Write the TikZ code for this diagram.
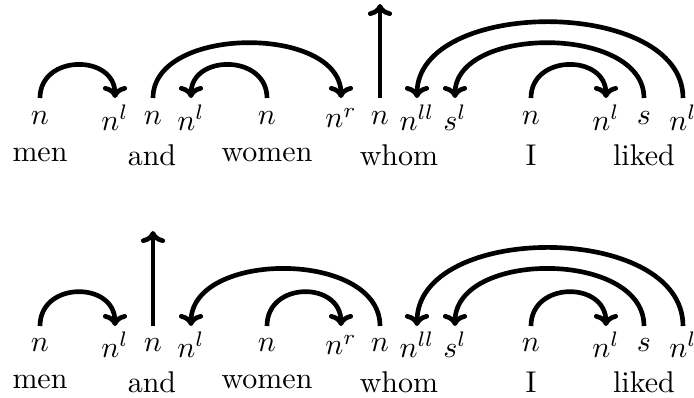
\documentclass[tikz,border=0pt]{standalone}
\usetikzlibrary{arrows.meta}
\begin{document}
\begin{tikzpicture}[x=0.33333pt,y=-0.33333pt,
  arr/.style={-{To[width=8pt,length=4pt]},line width=1.55pt},
  lab/.style={inner sep=0pt},
  word/.style={inner sep=0pt}]
\useasboundingbox (0,0) rectangle (694,397);
% ---------- top row ----------
\coordinate (tb) at (0,98);
\coordinate (ttop) at (380,4);
\node[lab] (t1) at (40,118) {$n$};
\node[lab] (t2) at (115,118) {$n^l$};
\node[lab] (t3) at (153,118) {$n$};
\node[lab] (t4) at (191,118) {$n^l$};
\node[lab] (t5) at (267,118) {$n$};
\node[lab] (t6) at (341,118) {$n^r$};
\node[lab] (t7) at (380,118) {$n$};
\node[lab] (t8) at (417,118) {$n^{ll}$};
\node[lab] (t9) at (455,118) {$s^l$};
\node[lab] (t10) at (531,118) {$n$};
\node[lab] (t11) at (606,118) {$n^l$};
\node[lab] (t12) at (644,118) {$s$};
\node[lab] (t13) at (683,118) {$n^l$};
\node[word] (tw1) at (40,155) {men};
\node[word] (tw2) at (152,155) {and};
\node[word] (tw3) at (267,155) {women};
\node[word] (tw4) at (399,155) {whom};
\node[word] (tw5) at (531,155) {I};
\node[word] (tw6) at (644,155) {liked};
\draw[arr] (t1 |- tb) .. controls +(0,-44) and +(0,-44) .. (t2 |- tb);
\draw[arr] (t3 |- tb) .. controls +(0,-73) and +(0,-73) .. (t6 |- tb);
\draw[arr] (t5 |- tb) .. controls +(0,-44) and +(0,-44) .. (t4 |- tb);
\draw[arr] (t7 |- tb) -- (ttop);
\draw[arr] (t13 |- tb) .. controls +(0,-101) and +(0,-101) .. (t8 |- tb);
\draw[arr] (t12 |- tb) .. controls +(0,-73) and +(0,-73) .. (t9 |- tb);
\draw[arr] (t10 |- tb) .. controls +(0,-44) and +(0,-44) .. (t11 |- tb);
% ---------- bottom row ----------
\coordinate (bb) at (0,326);
\coordinate (btop) at (153,231);
\node[lab] (b1) at (40,345) {$n$};
\node[lab] (b2) at (115,345) {$n^l$};
\node[lab] (b3) at (153,345) {$n$};
\node[lab] (b4) at (191,345) {$n^l$};
\node[lab] (b5) at (267,345) {$n$};
\node[lab] (b6) at (341,345) {$n^r$};
\node[lab] (b7) at (380,345) {$n$};
\node[lab] (b8) at (417,345) {$n^{ll}$};
\node[lab] (b9) at (455,345) {$s^l$};
\node[lab] (b10) at (531,345) {$n$};
\node[lab] (b11) at (606,345) {$n^l$};
\node[lab] (b12) at (644,345) {$s$};
\node[lab] (b13) at (683,345) {$n^l$};
\node[word] (bw1) at (40,382) {men};
\node[word] (bw2) at (152,382) {and};
\node[word] (bw3) at (267,382) {women};
\node[word] (bw4) at (399,382) {whom};
\node[word] (bw5) at (531,382) {I};
\node[word] (bw6) at (644,382) {liked};
\draw[arr] (b1 |- bb) .. controls +(0,-45) and +(0,-45) .. (b2 |- bb);
\draw[arr] (b3 |- bb) -- (btop);
\draw[arr] (b7 |- bb) .. controls +(0,-76) and +(0,-76) .. (b4 |- bb);
\draw[arr] (b5 |- bb) .. controls +(0,-45) and +(0,-45) .. (b6 |- bb);
\draw[arr] (b13 |- bb) .. controls +(0,-104) and +(0,-104) .. (b8 |- bb);
\draw[arr] (b12 |- bb) .. controls +(0,-76) and +(0,-76) .. (b9 |- bb);
\draw[arr] (b10 |- bb) .. controls +(0,-45) and +(0,-45) .. (b11 |- bb);
\end{tikzpicture}
\end{document}
